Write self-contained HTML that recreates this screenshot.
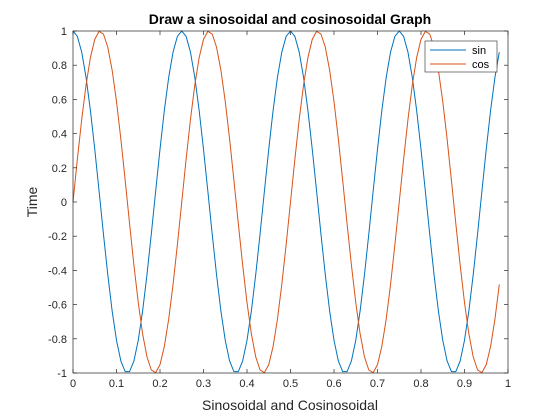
<!DOCTYPE html>
<html><head><meta charset="utf-8"><style>
html,body{margin:0;padding:0;background:#fff;}
svg{display:block;font-family:"Liberation Sans",Arial,sans-serif;}
</style></head><body>
<svg id="chart" width="560" height="420" viewBox="0 0 560 420">
<rect x="0" y="0" width="560" height="420" fill="#fff"/>
<rect x="73" y="31" width="435" height="342" fill="#fff"/>
<g id="series"></g>
<g id="axes"></g>
<text x="290" y="24" text-anchor="middle" font-size="14" font-weight="bold" fill="#000">Draw a sinosoidal and cosinosoidal Graph</text>
<text x="290" y="410" text-anchor="middle" font-size="14" fill="#262626">Sinosoidal and Cosinosoidal</text>
<text x="0" y="0" transform="translate(37,202) rotate(-90)" text-anchor="middle" font-size="14" fill="#262626">Time</text>
<g>
<rect x="425" y="41" width="72" height="31" fill="#fff" stroke="#262626" stroke-width="0.6"/>
<line x1="430" y1="50" x2="466" y2="50" stroke="#0072BD" stroke-width="1"/>
<text x="472" y="54" font-size="11" fill="#000">sin</text>
<line x1="430" y1="64" x2="466" y2="64" stroke="#D95319" stroke-width="1"/>
<text x="472" y="68" font-size="11" fill="#000">cos</text>
</g>
</svg>
<script>
const xStart = 0;
const xStep = 0.01;
const sinSeries = [
1,0.9686,0.8763,0.7290,0.5358,0.3090,0.0628,-0.1874,-0.4258,-0.6374,-0.8090,-0.9298,-0.9921,-0.9921,-0.9298,-0.8090,-0.6374,-0.4258,-0.1874,0.0628,0.3090,0.5358,0.7290,0.8763,0.9686,
1,0.9686,0.8763,0.7290,0.5358,0.3090,0.0628,-0.1874,-0.4258,-0.6374,-0.8090,-0.9298,-0.9921,-0.9921,-0.9298,-0.8090,-0.6374,-0.4258,-0.1874,0.0628,0.3090,0.5358,0.7290,0.8763,0.9686,
1,0.9686,0.8763,0.7290,0.5358,0.3090,0.0628,-0.1874,-0.4258,-0.6374,-0.8090,-0.9298,-0.9921,-0.9921,-0.9298,-0.8090,-0.6374,-0.4258,-0.1874,0.0628,0.3090,0.5358,0.7290,0.8763,0.9686,
1,0.9686,0.8763,0.7290,0.5358,0.3090,0.0628,-0.1874,-0.4258,-0.6374,-0.8090,-0.9298,-0.9921,-0.9921,-0.9298,-0.8090,-0.6374,-0.4258,-0.1874,0.0628,0.3090,0.5358,0.7290,0.8763];
const cosSeries = [
0,0.2487,0.4818,0.6845,0.8443,0.9511,0.9980,0.9823,0.9048,0.7705,0.5878,0.3681,0.1253,-0.1253,-0.3681,-0.5878,-0.7705,-0.9048,-0.9823,-0.9980,-0.9511,-0.8443,-0.6845,-0.4818,-0.2487,
0,0.2487,0.4818,0.6845,0.8443,0.9511,0.9980,0.9823,0.9048,0.7705,0.5878,0.3681,0.1253,-0.1253,-0.3681,-0.5878,-0.7705,-0.9048,-0.9823,-0.9980,-0.9511,-0.8443,-0.6845,-0.4818,-0.2487,
0,0.2487,0.4818,0.6845,0.8443,0.9511,0.9980,0.9823,0.9048,0.7705,0.5878,0.3681,0.1253,-0.1253,-0.3681,-0.5878,-0.7705,-0.9048,-0.9823,-0.9980,-0.9511,-0.8443,-0.6845,-0.4818,-0.2487,
0,0.2487,0.4818,0.6845,0.8443,0.9511,0.9980,0.9823,0.9048,0.7705,0.5878,0.3681,0.1253,-0.1253,-0.3681,-0.5878,-0.7705,-0.9048,-0.9823,-0.9980,-0.9511,-0.8443,-0.6845,-0.4818];
const xTicks = [0,0.1,0.2,0.3,0.4,0.5,0.6,0.7,0.8,0.9,1];
const xTickLabels = ["0","0.1","0.2","0.3","0.4","0.5","0.6","0.7","0.8","0.9","1"];
const yTicks = [-1,-0.8,-0.6,-0.4,-0.2,0,0.2,0.4,0.6,0.8,1];
const yTickLabels = ["-1","-0.8","-0.6","-0.4","-0.2","0","0.2","0.4","0.6","0.8","1"];

const L=73,R=508,T=31,B=373;
const xs=v=>L+(v-0)/(1-0)*(R-L);
const ys=v=>B-(v+1)/2*(B-T);
const NS="http://www.w3.org/2000/svg";
function mk(tag,attrs,parent){const e=document.createElementNS(NS,tag);for(const k in attrs)e.setAttribute(k,attrs[k]);parent.appendChild(e);return e;}
const sg=document.getElementById('series');
function drawLine(vals,color,name){
  const d=vals.map((v,i)=>(i?'L':'M')+xs(xStart+i*xStep).toFixed(2)+' '+ys(v).toFixed(2)).join(' ');
  const p=mk('path',{d:d,fill:'none',stroke:color,'stroke-width':1},sg);
  
  
}
drawLine(sinSeries,'#0072BD','sin-line');
drawLine(cosSeries,'#D95319','cos-line');
const ag=document.getElementById('axes');
const box=mk('rect',{x:L,y:T,width:R-L,height:B-T,fill:'none',stroke:'#262626','stroke-width':0.7},ag);


xTicks.forEach((v,i)=>{
  const x=xs(v);
  const t1=mk('line',{x1:x,y1:B,x2:x,y2:B-4,stroke:'#262626','stroke-width':0.7},ag);
  
  
  const t2=mk('line',{x1:x,y1:T,x2:x,y2:T+4,stroke:'#262626','stroke-width':0.7},ag);
  
  
  const tx=mk('text',{x:x,y:B+14,'text-anchor':'middle','font-size':11,fill:'#262626'},ag);
  tx.textContent=xTickLabels[i];
  
  
});
yTicks.forEach((v,i)=>{
  const y=ys(v);
  const t1=mk('line',{x1:L,y1:y,x2:L+4,y2:y,stroke:'#262626','stroke-width':0.7},ag);
  
  
  const t2=mk('line',{x1:R,y1:y,x2:R-4,y2:y,stroke:'#262626','stroke-width':0.7},ag);
  
  
  const tx=mk('text',{x:L-6,y:y+4,'text-anchor':'end','font-size':11,fill:'#262626'},ag);
  tx.textContent=yTickLabels[i];
  
  
});
</script>
</body></html>
